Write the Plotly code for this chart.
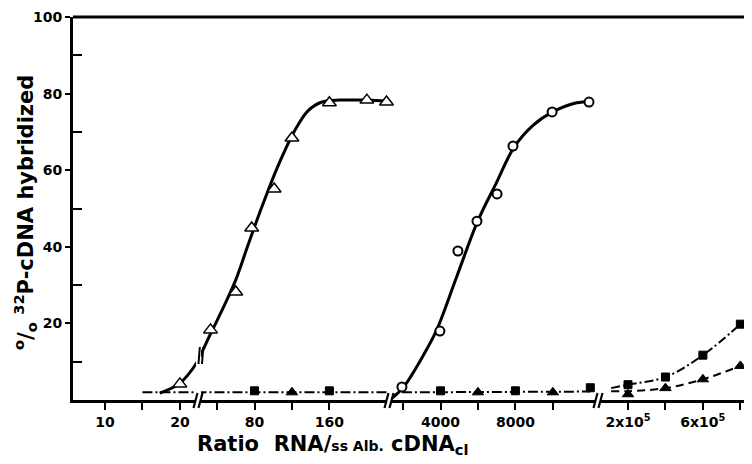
import plotly.graph_objects as go

# ---------------- data ----------------
# segment 1: ratio 10 - 20
s1_major = [10, 20]
s1_major_text = ["10", "20"]
s1_minor = [15]
s1_open_tri_x = [20]
s1_open_tri_y = [4.2]
s1_curve_x = [17.3, 20.0, 22.5, 24.2]
s1_curve_y = [1.8, 4.4, 10.5, 17.5]
s1_base_x = [15, 24]
s1_base_y = [2.0, 2.0]

# segment 2: ratio 40 - 220
s2_major = [80, 160]
s2_major_text = ["80", "160"]
s2_minor = [40, 120]
s2_open_tri_x = [33, 60, 77, 101, 120, 160, 200, 221]
s2_open_tri_y = [18.3, 28.2, 44.9, 55.1, 68.4, 77.6, 78.3, 77.8]
s2_curve_x = [20.2, 33.5, 47.4, 60.2, 73.1, 88.0, 104.0, 122.2, 137.1, 152.1, 171.3, 200.2, 223.7]
s2_curve_y = [10.5, 17.5, 24.5, 31.5, 40.5, 50.5, 60.5, 70.0, 75.5, 77.8, 78.3, 78.3, 78.0]
s2_base_x = [18, 225]
s2_base_y = [2.0, 2.0]
s2_sq_x = [80, 160]
s2_sq_y = [2.4, 2.4]
s2_tri_x = [120]
s2_tri_y = [2.0]

# segment 3: ratio 2000 - 12000
s3_major = [4000, 8000]
s3_major_text = ["4000", "8000"]
s3_minor = [2000, 6000, 10000]
s3_circle_x = [1940, 3968, 4930, 5947, 7020, 7870, 9960, 11930]
s3_circle_y = [3.4, 18.0, 38.9, 46.7, 53.8, 66.3, 75.2, 77.8]
s3_curve_x = [1394, 2013, 3065, 3797, 4865, 5987, 6964, 7941, 8956, 10024, 11274, 11984]
s3_curve_y = [0.4, 3.3, 11.5, 18.3, 32.2, 46.7, 56.5, 66.1, 71.8, 75.3, 77.6, 77.9]
s3_base_x = [1940, 12000]
s3_base_y = [2.0, 2.2]
s3_sq_x = [4000, 8000, 12000]
s3_sq_y = [2.4, 2.4, 3.2]
s3_tri_x = [6000, 10000]
s3_tri_y = [2.0, 2.0]

# segment 4: ratio 2x10^5 - 8x10^5
s4_major = [2e5, 6e5]
s4_major_text = ["2x10<sup>5</sup>", "6x10<sup>5</sup>"]
s4_minor = [4e5, 8e5]
s4_sq_x = [2e5, 4e5, 6e5, 8e5]
s4_sq_y = [4.0, 6.0, 11.7, 19.8]
s4_sq_line_x = [1.1e5, 2e5, 4e5, 6e5, 8e5]
s4_sq_line_y = [3.1, 4.0, 6.0, 11.7, 19.8]
s4_tri_x = [2e5, 4e5, 6e5, 8e5]
s4_tri_y = [1.5, 3.1, 5.4, 8.9]
s4_tri_line_x = [1.1e5, 2e5, 4e5, 6e5, 8e5]
s4_tri_line_y = [2.3, 2.3, 3.1, 5.4, 8.9]

y_ticks = [20, 40, 60, 80, 100]
y_minor = [10, 30, 50, 70, 90]

# ---------------- layout geometry (page pixels) ----------------
OFF = 8                      # default body margin of the html page
PAGE_W, PAGE_H = 752, 464
AX_L, AX_R, AX_T, AX_B = 73, 752, 17, 400   # plot area in page pixels
W, H = PAGE_W - OFF, PAGE_H - OFF
L, T = AX_L - OFF, AX_T - OFF
R, B = PAGE_W - AX_R, PAGE_H - AX_B
PW = AX_R - AX_L
PH = AX_B - AX_T
STEP = 37.45  # pixels between neighbouring ticks


def pxx(x):
    return (x - AX_L) / PW


def pxy(y):
    return (AX_B - y) / PH


# (pixel left, pixel right, reference pixel, reference value, value per tick step)
segments = [
    (73, 196, 105.0, 10, 5),
    (201, 387, 254.5, 80, 40),
    (392, 596, 440.5, 4000, 2000),
    (601, 752, 628.0, 2e5, 2e5),
]
tick_sets = [(s1_major, s1_major_text, s1_minor), (s2_major, s2_major_text, s2_minor),
             (s3_major, s3_major_text, s3_minor), (s4_major, s4_major_text, s4_minor)]

FONT = "DejaVu Sans"
BLACK = "black"

fig = go.Figure()


def line_tr(x, y, ax, width=3, dash="solid", shape="spline"):
    fig.add_trace(go.Scatter(x=x, y=y, xaxis=ax, yaxis="y", mode="lines",
                             line=dict(color=BLACK, width=width, dash=dash, shape=shape,
                                       smoothing=1.0),
                             hoverinfo="skip", showlegend=False))


def mark_tr(x, y, ax, symbol, size, fill, lw=1.5):
    fig.add_trace(go.Scatter(x=x, y=y, xaxis=ax, yaxis="y", mode="markers",
                             marker=dict(symbol=symbol, size=size, color=fill,
                                         line=dict(color=BLACK, width=lw)),
                             cliponaxis=False, showlegend=False))


BASE_DASH = "10px,3px,2px,3px"
SQ_DASH = "9px,3px,2px,3px"
TRI_DASH = "8px,5px"

# segment 1
line_tr(s1_base_x, s1_base_y, "x", width=2, dash=BASE_DASH, shape="linear")
line_tr(s1_curve_x, s1_curve_y, "x")
mark_tr(s1_open_tri_x, s1_open_tri_y, "x", "triangle-up", 12, "white")

# segment 2
line_tr(s2_base_x, s2_base_y, "x2", width=2, dash=BASE_DASH, shape="linear")
line_tr(s2_curve_x, s2_curve_y, "x2")
mark_tr(s2_open_tri_x, s2_open_tri_y, "x2", "triangle-up", 12, "white")
mark_tr(s2_sq_x, s2_sq_y, "x2", "square", 8, BLACK, 1)
mark_tr(s2_tri_x, s2_tri_y, "x2", "triangle-up", 10, BLACK, 1)

# segment 3
line_tr(s3_base_x, s3_base_y, "x3", width=2, dash=BASE_DASH, shape="linear")
line_tr(s3_curve_x, s3_curve_y, "x3")
mark_tr(s3_circle_x, s3_circle_y, "x3", "circle", 9, "white", 2)
mark_tr(s3_sq_x, s3_sq_y, "x3", "square", 8, BLACK, 1)
mark_tr(s3_tri_x, s3_tri_y, "x3", "triangle-up", 10, BLACK, 1)

# segment 4
line_tr(s4_tri_line_x, s4_tri_line_y, "x4", width=2, dash=TRI_DASH)
line_tr(s4_sq_line_x, s4_sq_line_y, "x4", width=2, dash=SQ_DASH)
mark_tr(s4_tri_x, s4_tri_y, "x4", "triangle-up", 10, BLACK, 1)
mark_tr(s4_sq_x, s4_sq_y, "x4", "square", 8, BLACK, 1)

layout = dict(
    width=W, height=H,
    margin=dict(l=L, r=R, t=T, b=B, pad=0),
    paper_bgcolor="white", plot_bgcolor="white",
    font=dict(family=FONT, color=BLACK, size=14, weight="bold"),
    showlegend=False,
)

for i, ((p0, p1, rp, rv, vs), (tv, tt, mv)) in enumerate(zip(segments, tick_sets)):
    v0 = rv + (p0 - rp) / STEP * vs
    v1 = rv + (p1 - rp) / STEP * vs
    name = "xaxis" if i == 0 else f"xaxis{i+1}"
    layout[name] = dict(
        domain=[pxx(p0), pxx(p1)], range=[v0, v1], anchor="y",
        showline=True, linewidth=3, linecolor=BLACK,
        ticks="outside", ticklen=7, tickwidth=2, tickcolor=BLACK,
        tickmode="array", tickvals=tv, ticktext=tt,
        minor=dict(tickmode="array", tickvals=mv, ticks="outside", ticklen=7,
                   tickwidth=2, tickcolor=BLACK, showgrid=False),
        tickfont=dict(family=FONT, size=14, color=BLACK, weight="bold"),
        showgrid=False, zeroline=False, fixedrange=True,
    )

layout["yaxis"] = dict(
    domain=[0, 1], range=[0, 100], anchor="x",
    showline=True, linewidth=3, linecolor=BLACK,
    ticks="outside", ticklen=5, tickwidth=2, tickcolor=BLACK,
    tickmode="array", tickvals=y_ticks, ticktext=[str(v) for v in y_ticks],
    tickfont=dict(family=FONT, size=14, color=BLACK, weight="bold"),
    minor=dict(tickmode="array", tickvals=y_minor, ticks="inside", ticklen=9,
               tickwidth=2, tickcolor=BLACK, showgrid=False),
    showgrid=False, zeroline=False, fixedrange=True,
)

shapes = [
    # top border
    dict(type="line", xref="paper", yref="paper", x0=0, x1=1, y0=1, y1=1,
         line=dict(color=BLACK, width=3)),
]
# axis break marks "//"
for c in (198.5, 389.5, 598.5):
    for off in (-3.0, 2.0):
        shapes.append(dict(type="line", xref="paper", yref="paper",
                           x0=pxx(c + off - 2), y0=pxy(408), x1=pxx(c + off + 2), y1=pxy(393),
                           line=dict(color=BLACK, width=2.2)))
# break mark on the curve "||"
for xo in (199.0, 202.5):
    shapes.append(dict(type="line", xref="paper", yref="paper",
                       x0=pxx(xo - 0.5), y0=pxy(364), x1=pxx(xo + 0.8), y1=pxy(347),
                       line=dict(color=BLACK, width=2)))
layout["shapes"] = shapes

layout["annotations"] = [
    dict(text="Ratio&nbsp;&nbsp;RNA/<span style='font-size:14px'>ss Alb.</span>&nbsp;cDNA<sub>cl</sub>",
         xref="paper", yref="paper", x=pxx(333), y=pxy(445),
         xanchor="center", yanchor="middle", showarrow=False,
         font=dict(family=FONT, size=21, color=BLACK, weight="bold")),
    dict(text="<sup>o</sup>/<sub>o</sub> <sup>32</sup>P-cDNA hybridized",
         xref="paper", yref="paper", x=pxx(25), y=pxy(213),
         xanchor="center", yanchor="middle", textangle=-90, showarrow=False,
         font=dict(family=FONT, size=21, color=BLACK, weight="bold")),
]

fig.update_layout(**layout)
fig.write_html("out.html")
